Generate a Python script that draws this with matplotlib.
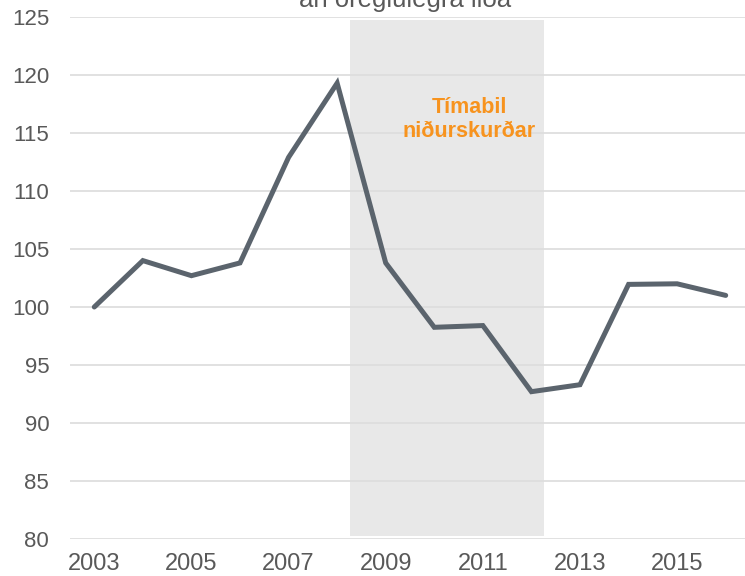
import matplotlib.pyplot as plt

# gögn lesin af myndinni
years = [2003, 2004, 2005, 2006, 2007, 2008, 2009, 2010, 2011, 2012, 2013, 2014, 2015, 2016]
index_values = [100.0, 104.0, 102.7, 103.8, 112.9, 119.3, 103.8, 98.25, 98.4, 92.7, 93.3, 101.95, 102.0, 101.0]
xtick_years = [2003, 2005, 2007, 2009, 2011, 2013, 2015]
yticks = [80, 85, 90, 95, 100, 105, 110, 115, 120, 125]
cut_period = (2008.27, 2012.25)
cut_label = ["Tímabil", "niðurskurðar"]
title_text = "án óreglulegra liða"

plt.rcParams['font.family'] = ['Liberation Sans', 'DejaVu Sans']

fig = plt.figure(figsize=(7.45, 5.76), dpi=100)
ax = fig.add_axes([70 / 745, 37 / 576, 675 / 745, 522 / 576])

ax.axvspan(cut_period[0], cut_period[1], ymin=0.005, ymax=0.994,
           color='#E8E8E8', zorder=0, lw=0)
ax.plot(years, index_values, color='#5B646D', lw=3.6, zorder=3,
        solid_joinstyle='miter', solid_capstyle='round')

# tveggja lína merking á skyggða svæðinu
for line, ypos in zip(cut_label, [116.72, 114.66]):
    ax.text(2010.72, ypos, line, ha='center', va='baseline',
            color='#F7931E', fontsize=15.5, fontweight='bold', zorder=4)

ax.set_xlim(2002.5, 2002.5 + 675 / 48.57)
ax.set_ylim(80, 125)
ax.set_xticks(xtick_years)
ax.set_yticks(yticks)
ax.grid(axis='y', color='#DCDCDC', lw=1.2, zorder=1)
ax.set_axisbelow(True)
for s in ax.spines.values():
    s.set_visible(False)
ax.tick_params(axis='both', length=0, colors='#595959')
ax.tick_params(axis='y', pad=15, labelsize=16)
ax.tick_params(axis='x', pad=10, labelsize=17)

fig.text(405 / 745, 1 - 7.5 / 576, title_text, ha='center', va='baseline',
         fontsize=18.5, color='#595959')

fig.savefig('out.png', dpi=100)
